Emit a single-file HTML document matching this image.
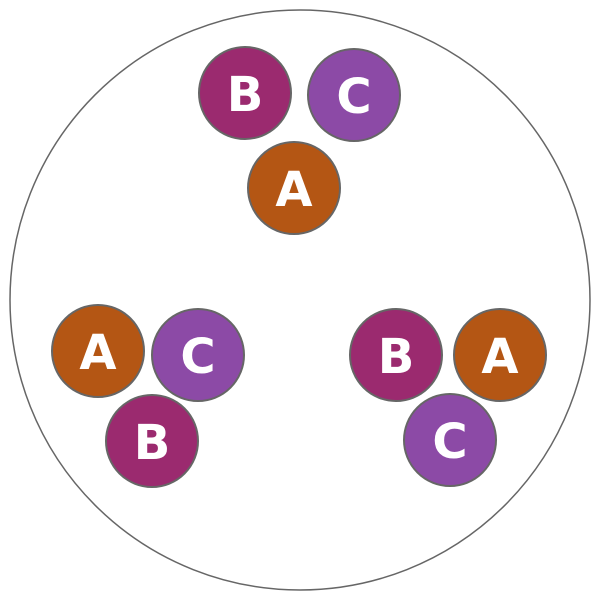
<!DOCTYPE html>
<html><head><meta charset="utf-8"><style>html,body{margin:0;padding:0;background:#fff}</style></head>
<body>
<svg width="600" height="600" viewBox="0 0 600 600" xmlns="http://www.w3.org/2000/svg">
<circle cx="300" cy="300" r="290" fill="#fff" stroke="#666" stroke-width="1.5"/>
<g stroke="#666" stroke-width="2">
<circle cx="245" cy="93" r="46" fill="#9B2A6F"/>
<circle cx="354" cy="95" r="46" fill="#8C4AA6"/>
<circle cx="294" cy="188" r="46" fill="#B45614"/>
<circle cx="98" cy="351" r="46" fill="#B45614"/>
<circle cx="198" cy="355" r="46" fill="#8C4AA6"/>
<circle cx="152" cy="441" r="46" fill="#9B2A6F"/>
<circle cx="396" cy="355" r="46" fill="#9B2A6F"/>
<circle cx="500" cy="355" r="46" fill="#B45614"/>
<circle cx="450" cy="440" r="46" fill="#8C4AA6"/>
</g>
<g fill="#fff" font-family="DejaVu Sans, sans-serif" font-weight="bold" font-size="48" text-anchor="middle">
<text x="245" y="111">B</text>
<text x="354" y="113">C</text>
<text x="294" y="206">A</text>
<text x="98" y="369">A</text>
<text x="198" y="373">C</text>
<text x="152" y="459">B</text>
<text x="396" y="373">B</text>
<text x="500" y="373">A</text>
<text x="450" y="458">C</text>
</g>
</svg>
</body></html>
